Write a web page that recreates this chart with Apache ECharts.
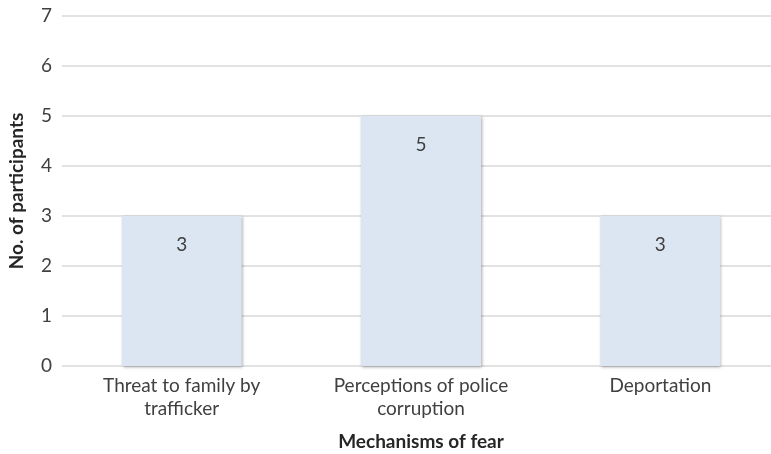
<!DOCTYPE html>
<html>
<head>
<meta charset="utf-8">
<script src="https://cdn.jsdelivr.net/npm/echarts@6/dist/echarts.min.js"></script>
<style>
  html, body { margin: 0; padding: 0; background: #fff; }
  #chart { width: 771px; height: 454px; }
</style>
</head>
<body>
<div id="chart"></div>
<script>
// Mechanisms of fear reported by participants
const categories = ['Threat to family by\ntrafficker', 'Perceptions of police\ncorruption', 'Deportation'];
const participants = [3, 5, 3];
const yTicks = [0, 1, 2, 3, 4, 5, 6, 7];

const font = 'Lato, "Open Sans", sans-serif';
const chart = echarts.init(document.getElementById('chart'));
chart.setOption({
  animation: false,
  grid: { left: 62, top: 16, right: -9, height: 350, containLabel: false, outerBoundsMode: 'none' },
  xAxis: {
    type: 'category',
    data: categories,
    name: 'Mechanisms of fear',
    nameLocation: 'middle',
    nameGap: 66,
    nameTextStyle: { fontFamily: font, fontSize: 19, fontWeight: 'bold', color: '#262626' },
    axisLine: { show: false },
    axisTick: { show: false },
    axisLabel: { fontFamily: font, fontSize: 19, color: '#404040', margin: 8, lineHeight: 23 }
  },
  yAxis: {
    type: 'value',
    min: yTicks[0],
    max: yTicks[yTicks.length - 1],
    interval: 1,
    name: 'No. of participants',
    nameLocation: 'middle',
    nameGap: 36,
    nameTextStyle: { fontFamily: font, fontSize: 19, fontWeight: 'bold', color: '#262626' },
    axisLabel: { fontFamily: font, fontSize: 19, color: '#404040', margin: 10 },
    splitLine: { lineStyle: { color: '#d9d9d9', width: 1.5 } }
  },
  series: [{
    type: 'bar',
    data: participants,
    barWidth: 120,
    itemStyle: {
      color: '#dce6f2',
      shadowColor: 'rgba(0,0,0,0.35)',
      shadowBlur: 3,
      shadowOffsetX: 1,
      shadowOffsetY: 1
    },
    label: {
      show: true,
      position: 'insideTop',
      distance: 19,
      fontFamily: font,
      fontSize: 19,
      color: '#404040'
    }
  }]
});
</script>
</body>
</html>
